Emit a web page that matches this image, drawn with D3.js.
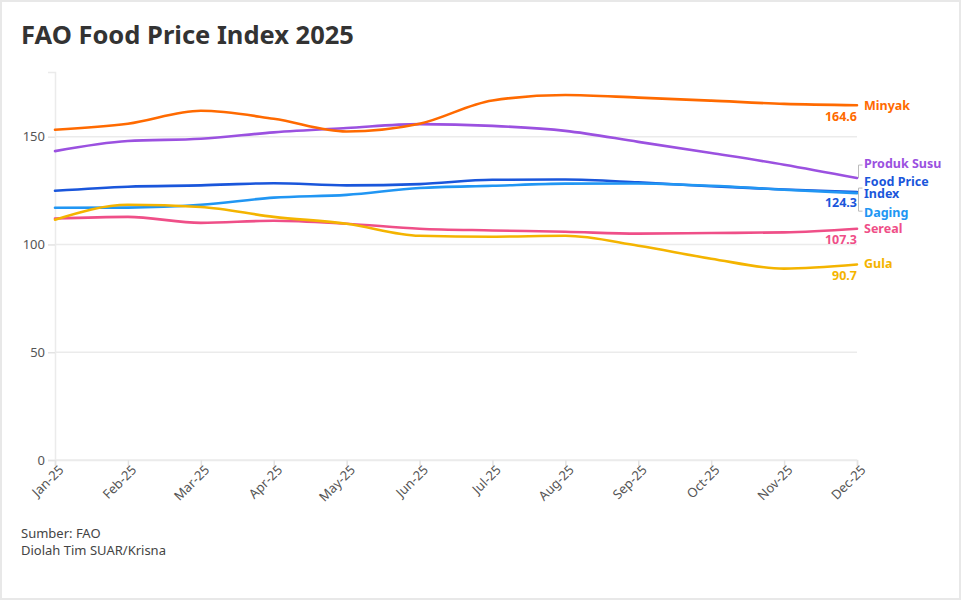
<!DOCTYPE html>
<html>
<head>
    <meta charset="utf-8">
    <title>FAO Food Price Index 2025</title>
    <script src="https://cdnjs.cloudflare.com/ajax/libs/d3/7.8.5/d3.min.js"></script>
    <style>
    body{ margin:0; background:#fff; }
    svg{ display:block; font-family:"Noto Sans", "Open Sans", sans-serif; }
    </style>
</head>
<body>
    <svg width="963" height="603"></svg>
    <script>
        // data
        var months = ["Jan-25","Feb-25","Mar-25","Apr-25","May-25","Jun-25","Jul-25","Aug-25","Sep-25","Oct-25","Nov-25","Dec-25"];
        var yTicks = [0, 50, 100, 150];

        var minyak     = [153.2, 156.0, 162.0, 158.3, 152.4, 156.0, 166.8, 169.3, 168.1, 166.7, 165.2, 164.6];
        var produkSusu = [143.3, 148.0, 149.0, 152.0, 154.0, 155.8, 155.0, 152.7, 147.6, 142.4, 137.0, 130.8];
        var foodPrice  = [124.9, 126.8, 127.4, 128.4, 127.4, 128.0, 130.0, 130.1, 128.8, 127.0, 125.5, 124.3];
        var daging     = [117.0, 117.1, 118.4, 121.7, 123.0, 126.2, 127.2, 128.2, 128.3, 127.2, 125.4, 123.8];
        var sereal     = [112.0, 112.8, 110.0, 111.0, 109.6, 107.3, 106.5, 105.9, 105.0, 105.3, 105.6, 107.3];
        var gula       = [111.5, 118.4, 117.4, 112.8, 109.6, 104.0, 103.6, 104.0, 99.4, 93.4, 88.8, 90.7];

        var series = [
            {name:["Produk Susu"], values:produkSusu, color:"#9b51e0", dy:-14, showVal:false},
            {name:["Food Price","Index"], values:foodPrice, color:"#1a56db", dy:-10, showVal:true},
            {name:["Daging"], values:daging, color:"#2196f3", dy:19.5, showVal:false},
            {name:["Sereal"], values:sereal, color:"#ef4f88", dy:-0.5, showVal:true},
            {name:["Gula"], values:gula, color:"#f4b400", dy:-1, showVal:true},
            {name:["Minyak"], values:minyak, color:"#ff6a00", dy:0, showVal:true}
        ];

        var svg = d3.select("svg");
        var W = +svg.attr("width"), H = +svg.attr("height");

        // outer card border
        svg.append("rect")
            .attr("x", 1).attr("y", 1)
            .attr("width", W - 4).attr("height", H - 5)
            .attr("fill", "#fff")
            .attr("stroke", "#e8e8e8")
            .attr("stroke-width", 2);

        svg.append("text")
            .attr("x", 21).attr("y", 44)
            .attr("font-size", 25.5).attr("font-weight", 700)
            .attr("fill", "#333")
            .text("FAO Food Price Index 2025");

        var m = {left:55, right:857, top:72, bottom:460};

        var x = d3.scalePoint()
            .domain(months)
            .range([m.left, m.right]);

        var y = d3.scaleLinear()
            .domain([0, 180])
            .range([m.bottom, m.top]);

        // grid lines
        svg.append("g")
            .selectAll("line")
            .data(yTicks)
            .enter()
            .append("line")
            .attr("x1", m.left).attr("x2", m.right)
            .attr("y1", function(d){ return y(d); })
            .attr("y2", function(d){ return y(d); })
            .attr("stroke", "#ebebeb")
            .attr("stroke-width", 1.5);

        // y axis
        var yAxis = svg.append("g")
            .attr("transform", "translate(" + m.left + ",0)")
            .call(d3.axisLeft(y).tickValues(yTicks).tickSize(7).tickPadding(3));
        yAxis.select(".domain").attr("stroke", "#ebebeb").attr("stroke-width", 1.5);
        yAxis.selectAll(".tick line").attr("stroke", "#e3e3e3").attr("stroke-width", 1.5);
        yAxis.selectAll(".tick text")
            .attr("font-size", 13).attr("fill", "#555")
            .attr("font-family", "Noto Sans, sans-serif");

        // x axis
        var xAxis = svg.append("g")
            .attr("transform", "translate(0," + m.bottom + ")")
            .call(d3.axisBottom(x).tickSize(6).tickPadding(4));
        xAxis.select(".domain").attr("stroke", "#ebebeb").attr("stroke-width", 1.5);
        xAxis.selectAll(".tick line").attr("stroke", "#e3e3e3").attr("stroke-width", 1.5);
        xAxis.selectAll(".tick text")
            .attr("font-size", 13).attr("fill", "#555")
            .attr("font-family", "Noto Sans, sans-serif")
            .attr("text-anchor", "end")
            .attr("dx", "-0.1em").attr("dy", "0.3em")
            .attr("transform", "rotate(-45)");

        var line = d3.line()
            .x(function(d, i){ return x(months[i]); })
            .y(function(d){ return y(d); })
            .curve(d3.curveMonotoneX);

        svg.append("g")
            .selectAll("path")
            .data(series)
            .enter()
            .append("path")
            .attr("d", function(d){ return line(d.values); })
            .attr("fill", "none")
            .attr("stroke", function(d){ return d.color; })
            .attr("stroke-width", 2.6)
            .attr("stroke-linecap", "round");

        // bracket connectors for the crowded labels
        var last = months[months.length - 1];
        var bx = x(last) + 1.5;
        function endY(s){ return y(s.values[s.values.length - 1]); }
        var susu = series[0], fpi = series[1], dag = series[2];
        svg.append("path")
            .attr("d", "M" + (bx + 4) + "," + (endY(susu) - 13) + "H" + bx + "V" + endY(susu))
            .attr("fill", "none").attr("stroke", "#bbb").attr("stroke-width", 1);
        svg.append("path")
            .attr("d", "M" + (bx + 4) + "," + (endY(fpi) - 4) + "H" + bx + "V" + (endY(dag) + 18) + "H" + (bx + 4))
            .attr("fill", "none").attr("stroke", "#bbb").attr("stroke-width", 1);

        // end labels (multi-line names as tspans in one text)
        var lab = svg.append("g")
            .attr("font-family", "Noto Sans, sans-serif")
            .attr("font-weight", 700);
        series.forEach(function(s){
            var ey = endY(s);
            var t = lab.append("text")
                .attr("x", x(last) + 7)
                .attr("y", ey + s.dy)
                .attr("font-size", 12.5)
                .attr("fill", s.color);
            s.name.forEach(function(part, k){
                t.append("tspan")
                    .attr("x", x(last) + 7)
                    .attr("dy", k === 0 ? "0.35em" : "11.5")
                    .text(part);
            });
            if(s.showVal){
                lab.append("text")
                    .attr("x", x(last))
                    .attr("y", ey + 11)
                    .attr("dy", "0.35em")
                    .attr("text-anchor", "end")
                    .attr("font-size", 12.5)
                    .attr("fill", s.color)
                    .text(d3.format(".1f")(s.values[s.values.length - 1]));
            }
        });

        // source note
        var note = svg.append("g")
            .attr("font-size", 13).attr("fill", "#444")
            .attr("font-family", "Noto Sans, sans-serif");
        note.append("text").attr("x", 21).attr("y", 538).text("Sumber: FAO");
        note.append("text").attr("x", 21).attr("y", 555).text("Diolah Tim SUAR/Krisna");
    </script>
</body>
</html>
